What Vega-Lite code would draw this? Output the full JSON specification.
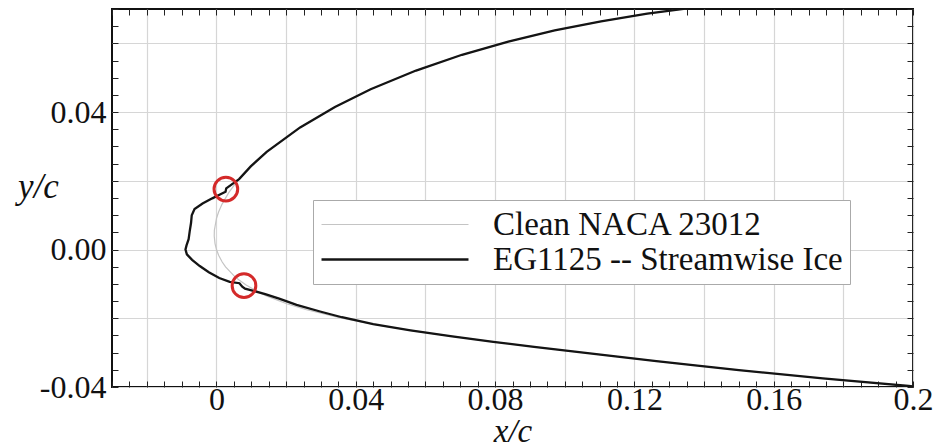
{
  "$schema": "https://vega.github.io/schema/vega-lite/v6.json",
  "autosize": {"type": "none"},
  "width": 801,
  "height": 378,
  "padding": {"left": 112, "top": 9, "right": 24, "bottom": 60},
  "background": "white",
  "config": {"view": {"stroke": "#111111", "strokeWidth": 2}, "font": "Liberation Serif"},
  "datasets": {
    "profiles": [
      {"s": "Clean NACA 23012", "i": 1, "x": 0.201263, "y": 0.075029},
      {"s": "Clean NACA 23012", "i": 2, "x": 0.175894, "y": 0.073843},
      {"s": "Clean NACA 23012", "i": 3, "x": 0.15, "y": 0.071837},
      {"s": "Clean NACA 23012", "i": 4, "x": 0.136896, "y": 0.070407},
      {"s": "Clean NACA 23012", "i": 5, "x": 0.123695, "y": 0.068622},
      {"s": "Clean NACA 23012", "i": 6, "x": 0.110426, "y": 0.066424},
      {"s": "Clean NACA 23012", "i": 7, "x": 0.097115, "y": 0.06375},
      {"s": "Clean NACA 23012", "i": 8, "x": 0.083796, "y": 0.060526},
      {"s": "Clean NACA 23012", "i": 9, "x": 0.070506, "y": 0.056676},
      {"s": "Clean NACA 23012", "i": 10, "x": 0.057306, "y": 0.052086},
      {"s": "Clean NACA 23012", "i": 11, "x": 0.044266, "y": 0.046629},
      {"s": "Clean NACA 23012", "i": 12, "x": 0.034019, "y": 0.041508},
      {"s": "Clean NACA 23012", "i": 13, "x": 0.024021, "y": 0.035536},
      {"s": "Clean NACA 23012", "i": 14, "x": 0.014414, "y": 0.028405},
      {"s": "Clean NACA 23012", "i": 15, "x": 0.009837, "y": 0.024203},
      {"s": "Clean NACA 23012", "i": 16, "x": 0.005504, "y": 0.019326},
      {"s": "Clean NACA 23012", "i": 17, "x": 0.003479, "y": 0.016491},
      {"s": "Clean NACA 23012", "i": 18, "x": 0.001607, "y": 0.013217},
      {"s": "Clean NACA 23012", "i": 19, "x": 0.000603, "y": 0.010903},
      {"s": "Clean NACA 23012", "i": 20, "x": 0.000017, "y": 0.009109},
      {"s": "Clean NACA 23012", "i": 21, "x": -0.000606, "y": 0.005624},
      {"s": "Clean NACA 23012", "i": 22, "x": -0.000646, "y": 0.003928},
      {"s": "Clean NACA 23012", "i": 23, "x": -0.000416, "y": 0.001728},
      {"s": "Clean NACA 23012", "i": 24, "x": 0.0, "y": 0.0},
      {"s": "Clean NACA 23012", "i": 25, "x": 0.000616, "y": -0.001667},
      {"s": "Clean NACA 23012", "i": 26, "x": 0.001646, "y": -0.003624},
      {"s": "Clean NACA 23012", "i": 27, "x": 0.002606, "y": -0.005017},
      {"s": "Clean NACA 23012", "i": 28, "x": 0.004983, "y": -0.007603},
      {"s": "Clean NACA 23012", "i": 29, "x": 0.006397, "y": -0.008807},
      {"s": "Clean NACA 23012", "i": 30, "x": 0.008393, "y": -0.010247},
      {"s": "Clean NACA 23012", "i": 31, "x": 0.011521, "y": -0.012095},
      {"s": "Clean NACA 23012", "i": 32, "x": 0.014496, "y": -0.013542},
      {"s": "Clean NACA 23012", "i": 33, "x": 0.020163, "y": -0.015759},
      {"s": "Clean NACA 23012", "i": 34, "x": 0.025586, "y": -0.017451},
      {"s": "Clean NACA 23012", "i": 35, "x": 0.035979, "y": -0.019996},
      {"s": "Clean NACA 23012", "i": 36, "x": 0.045981, "y": -0.02193},
      {"s": "Clean NACA 23012", "i": 37, "x": 0.055734, "y": -0.023533},
      {"s": "Clean NACA 23012", "i": 38, "x": 0.067694, "y": -0.025274},
      {"s": "Clean NACA 23012", "i": 39, "x": 0.079494, "y": -0.026844},
      {"s": "Clean NACA 23012", "i": 40, "x": 0.091204, "y": -0.028312},
      {"s": "Clean NACA 23012", "i": 41, "x": 0.102885, "y": -0.029728},
      {"s": "Clean NACA 23012", "i": 42, "x": 0.114574, "y": -0.031104},
      {"s": "Clean NACA 23012", "i": 43, "x": 0.126305, "y": -0.032452},
      {"s": "Clean NACA 23012", "i": 44, "x": 0.138104, "y": -0.033773},
      {"s": "Clean NACA 23012", "i": 45, "x": 0.15, "y": -0.035067},
      {"s": "Clean NACA 23012", "i": 46, "x": 0.174106, "y": -0.037519},
      {"s": "Clean NACA 23012", "i": 47, "x": 0.198737, "y": -0.039695},
      {"s": "Clean NACA 23012", "i": 48, "x": 0.20872, "y": -0.04046},
      {"s": "EG1125 -- Streamwise Ice", "i": 1, "x": 0.201263, "y": 0.075029},
      {"s": "EG1125 -- Streamwise Ice", "i": 2, "x": 0.175894, "y": 0.073843},
      {"s": "EG1125 -- Streamwise Ice", "i": 3, "x": 0.15, "y": 0.071837},
      {"s": "EG1125 -- Streamwise Ice", "i": 4, "x": 0.136896, "y": 0.070407},
      {"s": "EG1125 -- Streamwise Ice", "i": 5, "x": 0.123695, "y": 0.068622},
      {"s": "EG1125 -- Streamwise Ice", "i": 6, "x": 0.110426, "y": 0.066424},
      {"s": "EG1125 -- Streamwise Ice", "i": 7, "x": 0.097115, "y": 0.06375},
      {"s": "EG1125 -- Streamwise Ice", "i": 8, "x": 0.083796, "y": 0.060526},
      {"s": "EG1125 -- Streamwise Ice", "i": 9, "x": 0.070506, "y": 0.056676},
      {"s": "EG1125 -- Streamwise Ice", "i": 10, "x": 0.057306, "y": 0.052086},
      {"s": "EG1125 -- Streamwise Ice", "i": 11, "x": 0.044266, "y": 0.046629},
      {"s": "EG1125 -- Streamwise Ice", "i": 12, "x": 0.034019, "y": 0.041508},
      {"s": "EG1125 -- Streamwise Ice", "i": 13, "x": 0.024021, "y": 0.035536},
      {"s": "EG1125 -- Streamwise Ice", "i": 14, "x": 0.014414, "y": 0.028405},
      {"s": "EG1125 -- Streamwise Ice", "i": 15, "x": 0.009837, "y": 0.024203},
      {"s": "EG1125 -- Streamwise Ice", "i": 16, "x": 0.0065, "y": 0.0205},
      {"s": "EG1125 -- Streamwise Ice", "i": 17, "x": 0.0042, "y": 0.0188},
      {"s": "EG1125 -- Streamwise Ice", "i": 18, "x": 0.0028, "y": 0.0178},
      {"s": "EG1125 -- Streamwise Ice", "i": 19, "x": 0.0026, "y": 0.0168},
      {"s": "EG1125 -- Streamwise Ice", "i": 20, "x": 0.001, "y": 0.016},
      {"s": "EG1125 -- Streamwise Ice", "i": 21, "x": -0.0012, "y": 0.0149},
      {"s": "EG1125 -- Streamwise Ice", "i": 22, "x": -0.004, "y": 0.0134},
      {"s": "EG1125 -- Streamwise Ice", "i": 23, "x": -0.0063, "y": 0.0118},
      {"s": "EG1125 -- Streamwise Ice", "i": 24, "x": -0.0071, "y": 0.01},
      {"s": "EG1125 -- Streamwise Ice", "i": 25, "x": -0.0073, "y": 0.0078},
      {"s": "EG1125 -- Streamwise Ice", "i": 26, "x": -0.0077, "y": 0.0052},
      {"s": "EG1125 -- Streamwise Ice", "i": 27, "x": -0.008, "y": 0.003},
      {"s": "EG1125 -- Streamwise Ice", "i": 28, "x": -0.0086, "y": 0.0012},
      {"s": "EG1125 -- Streamwise Ice", "i": 29, "x": -0.0089, "y": 0.0},
      {"s": "EG1125 -- Streamwise Ice", "i": 30, "x": -0.0085, "y": -0.0014},
      {"s": "EG1125 -- Streamwise Ice", "i": 31, "x": -0.007, "y": -0.003},
      {"s": "EG1125 -- Streamwise Ice", "i": 32, "x": -0.0048, "y": -0.0048},
      {"s": "EG1125 -- Streamwise Ice", "i": 33, "x": -0.0022, "y": -0.0066},
      {"s": "EG1125 -- Streamwise Ice", "i": 34, "x": 0.0008, "y": -0.0083},
      {"s": "EG1125 -- Streamwise Ice", "i": 35, "x": 0.0038, "y": -0.0094},
      {"s": "EG1125 -- Streamwise Ice", "i": 36, "x": 0.0066, "y": -0.0098},
      {"s": "EG1125 -- Streamwise Ice", "i": 37, "x": 0.0074, "y": -0.0108},
      {"s": "EG1125 -- Streamwise Ice", "i": 38, "x": 0.0082, "y": -0.0114},
      {"s": "EG1125 -- Streamwise Ice", "i": 39, "x": 0.0106, "y": -0.012},
      {"s": "EG1125 -- Streamwise Ice", "i": 40, "x": 0.014, "y": -0.013},
      {"s": "EG1125 -- Streamwise Ice", "i": 41, "x": 0.018, "y": -0.0143},
      {"s": "EG1125 -- Streamwise Ice", "i": 42, "x": 0.023, "y": -0.0161},
      {"s": "EG1125 -- Streamwise Ice", "i": 43, "x": 0.03, "y": -0.0181},
      {"s": "EG1125 -- Streamwise Ice", "i": 44, "x": 0.036, "y": -0.0197},
      {"s": "EG1125 -- Streamwise Ice", "i": 45, "x": 0.045, "y": -0.0217},
      {"s": "EG1125 -- Streamwise Ice", "i": 46, "x": 0.0557, "y": -0.0235},
      {"s": "EG1125 -- Streamwise Ice", "i": 47, "x": 0.067694, "y": -0.025274},
      {"s": "EG1125 -- Streamwise Ice", "i": 48, "x": 0.079494, "y": -0.026844},
      {"s": "EG1125 -- Streamwise Ice", "i": 49, "x": 0.091204, "y": -0.028312},
      {"s": "EG1125 -- Streamwise Ice", "i": 50, "x": 0.102885, "y": -0.029728},
      {"s": "EG1125 -- Streamwise Ice", "i": 51, "x": 0.114574, "y": -0.031104},
      {"s": "EG1125 -- Streamwise Ice", "i": 52, "x": 0.126305, "y": -0.032452},
      {"s": "EG1125 -- Streamwise Ice", "i": 53, "x": 0.138104, "y": -0.033773},
      {"s": "EG1125 -- Streamwise Ice", "i": 54, "x": 0.15, "y": -0.035067},
      {"s": "EG1125 -- Streamwise Ice", "i": 55, "x": 0.174106, "y": -0.037519},
      {"s": "EG1125 -- Streamwise Ice", "i": 56, "x": 0.198737, "y": -0.039695},
      {"s": "EG1125 -- Streamwise Ice", "i": 57, "x": 0.20872, "y": -0.04046}
    ],
    "circles": [
      {"x": 0.0027, "y": 0.0176},
      {"x": 0.0079, "y": -0.0105}
    ]
  },
  "layer": [
    {
      "data": {"name": "profiles"},
      "mark": {"type": "line", "clip": true},
      "encoding": {
        "x": {
          "field": "x", "type": "quantitative",
          "scale": {"domain": [-0.03, 0.2], "nice": false, "zero": false},
          "axis": {
            "orient": "bottom",
            "values": [-0.03,-0.025,-0.02,-0.015,-0.01,-0.005,0,0.005,0.01,0.015,0.02,0.025,0.03,0.035,0.04,0.045,0.05,0.055,0.06,0.065,0.07,0.075,0.08,0.085,0.09,0.095,0.1,0.105,0.11,0.115,0.12,0.125,0.13,0.135,0.14,0.145,0.15,0.155,0.16,0.165,0.17,0.175,0.18,0.185,0.19,0.195,0.2],
            "title": "x/c",
            "titleFont": "Liberation Serif", "titleFontStyle": "italic", "titleFontWeight": "normal", "titleFontSize": 33, "titleColor": "#111111", "titlePadding": 0,
            "labelExpr": "abs(datum.value*25-round(datum.value*25))<0.001 ? format(datum.value,'~g') : ''",
            "labelFont": "Liberation Serif", "labelFontSize": 32, "labelColor": "#111111", "labelPadding": 3, "labelFlush": false, "labelOverlap": false,
            "tickSize": -6, "tickColor": "#222222", "tickWidth": 1,
            "grid": true, "gridColor": "#d6d6d6", "gridWidth": 1.2,
            "gridOpacity": {"condition": {"test": "abs(datum.value*50-round(datum.value*50))<0.001", "value": 1}, "value": 0},
            "domain": false
          }
        },
        "y": {
          "field": "y", "type": "quantitative",
          "scale": {"domain": [-0.04, 0.07], "nice": false, "zero": false},
          "axis": {
            "orient": "left",
            "values": [-0.04,-0.035,-0.03,-0.025,-0.02,-0.015,-0.01,-0.005,0,0.005,0.01,0.015,0.02,0.025,0.03,0.035,0.04,0.045,0.05,0.055,0.06,0.065,0.07],
            "title": "y/c",
            "titleFont": "Liberation Serif", "titleFontStyle": "italic", "titleFontWeight": "normal", "titleFontSize": 35, "titleColor": "#111111",
            "titleAngle": 0, "titleX": -74, "titleY": 177, "titleAlign": "center", "titleBaseline": "middle",
            "labelExpr": "abs(datum.value*25-round(datum.value*25))<0.001 ? replace(format(datum.value,'.2f'),'\u2212','-') : ''",
            "labelFont": "Liberation Serif", "labelFontSize": 32, "labelColor": "#111111", "labelPadding": 12, "labelFlush": false, "labelOverlap": false,
            "tickSize": -6, "tickColor": "#222222", "tickWidth": 1,
            "grid": true, "gridColor": "#d6d6d6", "gridWidth": 1.2,
            "gridOpacity": {"condition": {"test": "abs(datum.value*50-round(datum.value*50))<0.001", "value": 1}, "value": 0},
            "domain": false
          }
        },
        "order": {"field": "i", "type": "quantitative"},
        "color": {
          "field": "s", "type": "nominal",
          "scale": {"domain": ["Clean NACA 23012", "EG1125 -- Streamwise Ice"], "range": ["#c4c4c4", "#141414"]},
          "legend": {
            "title": null, "orient": "none", "legendX": 201, "legendY": 191,
            "symbolType": "stroke", "symbolSize": 21600, "clipHeight": 35,
            "labelFont": "Liberation Serif", "labelFontSize": 33, "labelColor": "#111111", "labelOffset": 23, "labelLimit": 0,
            "padding": 7, "rowPadding": 0, "fillColor": "white", "strokeColor": "#aaaaaa", "cornerRadius": 0
          }
        },
        "strokeWidth": {
          "field": "s", "type": "ordinal",
          "scale": {"domain": ["Clean NACA 23012", "EG1125 -- Streamwise Ice"], "range": [1.2, 2.3]},
          "legend": {
            "title": null, "orient": "none", "legendX": 201, "legendY": 191,
            "symbolType": "stroke", "symbolSize": 21600, "clipHeight": 35,
            "labelFont": "Liberation Serif", "labelFontSize": 33, "labelColor": "#111111", "labelOffset": 23, "labelLimit": 0,
            "padding": 7, "rowPadding": 0, "fillColor": "white", "strokeColor": "#aaaaaa", "cornerRadius": 0
          }
        }
      }
    },
    {
      "data": {"name": "circles"},
      "mark": {"type": "point", "shape": "circle", "filled": false, "stroke": "#d42a2a", "strokeWidth": 3, "size": 560, "clip": true, "opacity": 1},
      "encoding": {
        "x": {
          "field": "x", "type": "quantitative",
          "scale": {"domain": [-0.03, 0.2], "nice": false, "zero": false},
          "axis": {
            "orient": "top",
            "values": [-0.03,-0.025,-0.02,-0.015,-0.01,-0.005,0,0.005,0.01,0.015,0.02,0.025,0.03,0.035,0.04,0.045,0.05,0.055,0.06,0.065,0.07,0.075,0.08,0.085,0.09,0.095,0.1,0.105,0.11,0.115,0.12,0.125,0.13,0.135,0.14,0.145,0.15,0.155,0.16,0.165,0.17,0.175,0.18,0.185,0.19,0.195,0.2],
            "title": null, "labels": false, "grid": false, "domain": false,
            "tickSize": -6, "tickColor": "#222222", "tickWidth": 1
          }
        },
        "y": {
          "field": "y", "type": "quantitative",
          "scale": {"domain": [-0.04, 0.07], "nice": false, "zero": false},
          "axis": {
            "orient": "right",
            "values": [-0.04,-0.035,-0.03,-0.025,-0.02,-0.015,-0.01,-0.005,0,0.005,0.01,0.015,0.02,0.025,0.03,0.035,0.04,0.045,0.05,0.055,0.06,0.065,0.07],
            "title": null, "labels": false, "grid": false, "domain": false,
            "tickSize": -6, "tickColor": "#222222", "tickWidth": 1
          }
        }
      }
    }
  ],
  "resolve": {"axis": {"x": "independent", "y": "independent"}}
}
